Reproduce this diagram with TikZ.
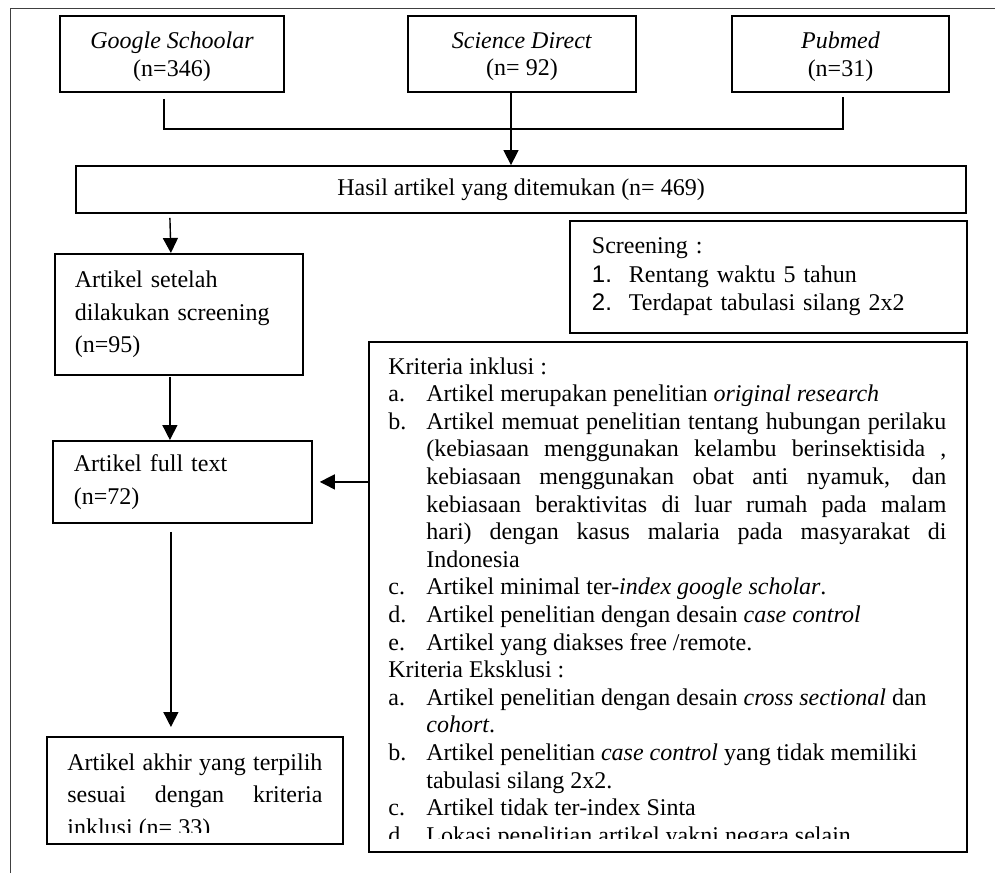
\documentclass[tikz,border=0pt]{standalone}
\usepackage{fontspec}
\setmainfont{Liberation Serif}
\setsansfont{Liberation Sans}
\usetikzlibrary{arrows.meta,calc}

\newcommand{\butir}[2]{\par\noindent\hangindent=19pt\hangafter=1\makebox[19pt][l]{#1}#2}

\begin{document}
\begin{tikzpicture}[x=0.5pt,y=-0.5pt,
  box/.style={draw,line width=0.9pt,rectangle,inner sep=0pt},
  link/.style={line width=0.7pt},
  arr/.style={line width=0.7pt,-{Triangle[width=7.5pt,length=7.5pt]}},
  every node/.style={font=\fontsize{12}{13.8}\selectfont},
  wide/.style={font=\fontsize{12}{16.4}\selectfont}]
\useasboundingbox (0,0) rectangle (995,873);

% Page frame
\draw[line width=0.5pt,black!75] (10,873) -- (10,8) -- (995,8);

% Source boxes
\node[box,minimum width=112pt,minimum height=38pt,align=center,text depth=0pt] (google) at (172,54) {\textit{Google Schoolar}\\(n=346)};
\node[box,minimum width=114pt,minimum height=38pt,align=center,text depth=0pt] (science) at (522,54) {\textit{Science Direct}\\(n= 92)};
\node[box,minimum width=108.5pt,minimum height=38pt,align=center,text depth=0pt] (pubmed) at (840.5,54) {\textit{Pubmed}\\(n=31)};

% Found articles
\node[box,minimum width=445pt,minimum height=23.5pt] (hasil) at (521,189.5) {Hasil artikel yang ditemukan (n= 469)};

% Screening note
\node[box,anchor=north west,minimum height=56pt,text width=176.5pt,inner xsep=11pt,align=left,font=\fontsize{12}{14.2}\selectfont] (screen) at (569,220)
  {Screening :\\ \makebox[18.5pt][l]{\sffamily 1.}Rentang waktu 5 tahun\\ \makebox[18.5pt][l]{\sffamily 2.}Terdapat tabulasi silang 2x2};

% Flow boxes
\node[box,wide,anchor=north west,minimum height=60.5pt,text width=104pt,inner xsep=10pt,align=left] (setelah) at (54,253) {Artikel setelah\\dilakukan screening\\(n=95)};
\node[box,wide,anchor=north west,minimum height=41pt,text width=108.5pt,inner xsep=10.5pt,align=left] (fulltext) at (52,440) {Artikel full text\\(n=72)};

% Final box, last line cut off
\node[box,anchor=north west,minimum width=148pt,minimum height=53.5pt] (akhir) at (46,736) {};
\begin{scope}
\clip (akhir.north west) rectangle ($(akhir.south east)+(0,-12)$);
\node[wide,anchor=north west,inner sep=0pt,text width=127.5pt,align=justify] (akhirtext) at (67,753)
  {Artikel akhir yang terpilih\linebreak sesuai dengan kriteria\linebreak inklusi (n= 33)};
\end{scope}

% Criteria box, last line cut off
\node[box,anchor=north west,minimum width=299pt,minimum height=255pt] (kriteria) at (368,341) {};
\begin{scope}
\clip (kriteria.north west) rectangle ($(kriteria.south east)+(0,-14)$);
\node[anchor=north west,inner sep=0pt,text width=279pt,align=justify] (kritext) at (388,357) {%
\noindent Kriteria inklusi :
\butir{a.}{Artikel merupakan penelitian \textit{original research}}
\butir{b.}{Artikel memuat penelitian tentang hubungan perilaku\linebreak (kebiasaan menggunakan kelambu berinsektisida ,\linebreak kebiasaan menggunakan obat anti nyamuk, dan\linebreak kebiasaan beraktivitas di luar rumah pada malam\linebreak hari) dengan kasus malaria pada masyarakat di\linebreak Indonesia}
\butir{c.}{Artikel minimal ter-\textit{index google scholar}.}
\butir{d.}{Artikel penelitian dengan desain \textit{case control}}
\butir{e.}{Artikel yang diakses free /remote.}
\par\noindent Kriteria Eksklusi :
\butir{a.}{Artikel penelitian dengan desain \textit{cross sectional} dan\newline \textit{cohort}.}
\butir{b.}{Artikel penelitian \textit{case control} yang tidak memiliki\newline tabulasi silang 2x2.}
\butir{c.}{Artikel tidak ter-index Sinta}
\butir{d.}{Lokasi penelitian artikel yakni negara selain}};
\end{scope}

% Links
\draw[link] ($(google.south)+(-8,6)$) |- ($(pubmed.south)+(2.5,36)$) -- ($(pubmed.south)+(2.5,4)$);
\draw[arr] ($(science.south)+(-11,-1)$) -- ($(science.south |- hasil.north)+(-11,0)$);
\draw[arr] ($(setelah.north |- hasil.south)+(-9,4)$) -- ($(setelah.north)+(-8,0)$);
\draw[arr] ($(setelah.south)+(-9,1)$) -- ($(setelah.south |- fulltext.north)+(-9,0)$);
\draw[arr] (kriteria.west |- fulltext.east) -- ($(fulltext.east)+(7,0)$);
\draw[arr] ($(fulltext.south)+(-11.5,8)$) -- ($(fulltext.south |- akhir.north)+(-11.5,-9)$);

\end{tikzpicture}
\end{document}
